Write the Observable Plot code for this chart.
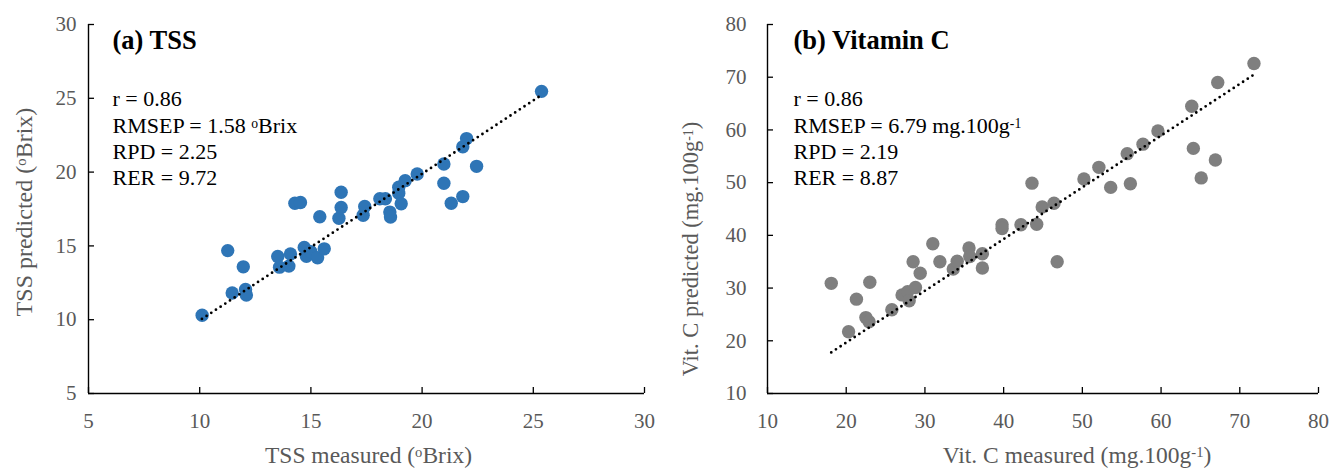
<!DOCTYPE html>
<html><head><meta charset="utf-8">
<script src="https://cdn.jsdelivr.net/npm/d3@7"></script>
<script src="https://cdn.jsdelivr.net/npm/@observablehq/plot@0.6"></script>
<style>
body{margin:0;background:#fff;}
#wrap{display:flex;width:1331px;height:468px;overflow:hidden;}
svg text{font-family:"Liberation Serif","Times New Roman",serif;}
</style></head><body><div id="wrap"></div>
<script>
// ---- (a) TSS ----
const tssMeasured  = [10.11, 11.26, 11.46, 11.96, 12.06, 12.10, 13.51, 13.59, 14.01, 14.08, 14.28, 14.53, 14.70, 14.80, 15.00, 15.30, 15.60, 15.40, 16.26, 16.36, 16.36, 17.35, 17.42, 18.10, 18.35, 18.55, 18.58, 18.95, 18.95, 19.06, 19.24, 19.78, 20.98, 20.98, 21.31, 21.83, 21.83, 22.00, 22.45, 25.37];
const tssPredicted = [10.30, 14.68, 11.81, 13.58, 12.05, 11.67, 14.28, 13.56, 13.63, 14.45, 17.89, 17.94, 14.90, 14.30, 14.60, 14.20, 14.80, 16.98, 16.87, 17.60, 18.63, 17.08, 17.67, 18.19, 18.19, 17.29, 16.95, 18.97, 18.57, 17.85, 19.42, 19.87, 20.55, 19.24, 17.89, 18.34, 21.71, 22.27, 20.39, 25.47];
const tssFitX = [10.1, 25.35];
const tssFitY = [10.05, 25.2];
const tssTicks = [5, 10, 15, 20, 25, 30];
const tssTitle = "(a) TSS";
const tssStats = ["r = 0.86", "RMSEP = 1.58 ºBrix", "RPD = 2.25", "RER = 9.72"];
const tssXLabel = "TSS measured (ºBrix)";
const tssYLabel = "TSS predicted (ºBrix)";

// ---- (b) Vitamin C ----
const vitMeasured  = [18.1, 20.3, 21.3, 22.5, 22.9, 23.0, 25.8, 27.1, 27.8, 28.0, 28.8, 28.5, 29.4, 31.0, 31.9, 33.6, 34.1, 35.6, 35.7, 37.3, 37.3, 39.8, 39.8, 42.2, 44.2, 43.6, 44.9, 46.4, 46.8, 50.2, 52.1, 53.6, 55.7, 56.1, 57.7, 59.6, 63.9, 64.1, 65.1, 66.9, 67.2, 71.8];
const vitPredicted = [30.9, 21.7, 27.9, 24.4, 23.6, 31.1, 25.9, 28.7, 29.3, 27.6, 30.1, 35.0, 32.8, 38.4, 35.0, 33.6, 35.1, 37.6, 36.0, 36.5, 33.8, 42.0, 41.3, 42.0, 42.1, 49.9, 45.4, 46.1, 35.0, 50.7, 52.9, 49.1, 55.5, 49.8, 57.3, 59.8, 64.5, 56.5, 50.9, 54.3, 69.0, 72.6];
const vitFitX = [18.1, 71.7];
const vitFitY = [17.8, 70.4];
const vitTicks = [10, 20, 30, 40, 50, 60, 70, 80];
const vitTitle = "(b) Vitamin C";
const vitStats = ["r = 0.86", "RMSEP = 6.79 mg.100g⁻¹", "RPD = 2.19", "RER = 8.87"];
const vitXLabel = "Vit. C measured (mg.100g⁻¹)";
const vitYLabel = "Vit. C predicted (mg.100g⁻¹)";

const FONT = '"Liberation Serif", "Times New Roman", serif';
const GREY = "#595959";

function supify(svg) {
  const ns = "http://www.w3.org/2000/svg";
  svg.querySelectorAll("text, tspan").forEach(el => {
    for (const node of [...el.childNodes]) {
      if (node.nodeType !== 3) continue;
      const s = node.nodeValue;
      if (!/(º|⁻¹)/.test(s)) continue;
      const frag = document.createDocumentFragment();
      const re = /(º|⁻¹)/g; let last = 0, m;
      while ((m = re.exec(s))) {
        if (m.index > last) frag.appendChild(document.createTextNode(s.slice(last, m.index)));
        const t = document.createElementNS(ns, "tspan");
        t.setAttribute("baseline-shift", "38%");
        t.setAttribute("font-size", "62%");
        t.textContent = m[1] === "º" ? "o" : "-1";
        frag.appendChild(t);
        last = m.index + m[0].length;
      }
      if (last < s.length) frag.appendChild(document.createTextNode(s.slice(last)));
      el.replaceChild(frag, node);
    }
  });
}

function panel(o) {
  const pts = o.xs.map((x, i) => ({x, y: o.ys[i]}));
  const fit = o.fx.map((x, i) => ({x, y: o.fy[i]}));
  const dom = [o.ticks[0], o.ticks[o.ticks.length - 1]];
  const svg = Plot.plot({
    width: o.width, height: 468,
    marginLeft: o.marginLeft, marginRight: o.marginRight, marginTop: 24, marginBottom: 75,
    style: {fontFamily: FONT, background: "white", overflow: "visible"},
    x: {domain: dom, ticks: o.ticks},
    y: {domain: dom, ticks: o.ticks},
    marks: [
      Plot.axisX({ticks: o.ticks, tickSize: -6, tickPadding: 26, fontSize: 21, fill: GREY, stroke: "black", strokeWidth: 1.3, label: null, tickFormat: d => String(d)}),
      Plot.axisY({ticks: o.ticks, tickSize: -6, tickPadding: o.yPad, fontSize: 21, fill: GREY, stroke: "black", strokeWidth: 1.3, label: null, tickFormat: d => String(d)}),
      Plot.ruleX([dom[0]], {stroke: "black", strokeWidth: 1.4}),
      Plot.ruleY([dom[0]], {stroke: "black", strokeWidth: 1.4}),
      Plot.dot(pts, {x: "x", y: "y", r: 6.7, fill: o.color, stroke: "none"}),
      Plot.line(fit, {x: "x", y: "y", stroke: "black", strokeWidth: 2.8, strokeDasharray: "0,5.6", strokeLinecap: "round"}),
      Plot.text([o.title], {frameAnchor: "top-left", textAnchor: "start", lineAnchor: "top", dx: o.textDx, dy: 6, fontSize: 26.5, fontWeight: "bold", fill: "black"}),
      Plot.text([o.stats.join("\n")], {frameAnchor: "top-left", textAnchor: "start", lineAnchor: "top", dx: o.textDx, dy: 63, fontSize: 22, lineHeight: 1.2, fill: "black"}),
      Plot.text([o.xLabel], {frameAnchor: "bottom", textAnchor: "middle", lineAnchor: "middle", dx: o.xLabelDx, dy: 62, fontSize: 23.5, fill: GREY}),
      Plot.text([o.yLabel], {frameAnchor: "left", textAnchor: "middle", lineAnchor: "middle", rotate: -90, dx: o.yLabelDx, dy: o.yLabelDy, fontSize: o.yLabelSize, fill: GREY})
    ]
  });
  supify(svg);
  return svg;
}

const wrap = document.getElementById("wrap");
wrap.appendChild(panel({
  width: 665, marginLeft: 88, marginRight: 21,
  xs: tssMeasured, ys: tssPredicted, fx: tssFitX, fy: tssFitY, ticks: tssTicks,
  color: "#2E75B6", title: tssTitle, stats: tssStats, xLabel: tssXLabel, yLabel: tssYLabel,
  textDx: 24, xLabelDx: 2, yLabelDx: -64, yLabelDy: 3, yPad: 18, yLabelSize: 24
}));
wrap.appendChild(panel({
  width: 666, marginLeft: 102, marginRight: 13,
  xs: vitMeasured, ys: vitPredicted, fx: vitFitX, fy: vitFitY, ticks: vitTicks,
  color: "#7F7F7F", title: vitTitle, stats: vitStats, xLabel: vitXLabel, yLabel: vitYLabel,
  textDx: 26, xLabelDx: 34, yLabelDx: -77, yLabelDy: 40, yPad: 27, yLabelSize: 22.5
}));
</script></body></html>
